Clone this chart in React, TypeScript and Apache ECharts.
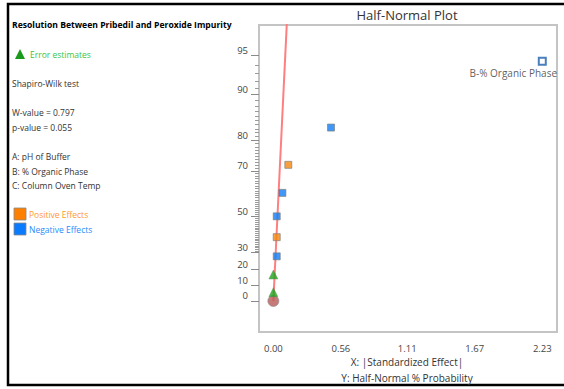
import React, { useEffect, useRef } from "react";
import * as echarts from "echarts";

// ---- data ----
const ERR_X = [0, 0];
const ERR_P = [5.6, 16.7];
const NEG_X = [0.028, 0.028, 0.075, 0.478];
const NEG_P = [27.8, 50, 61.1, 83.3];
const POS_X = [0.028, 0.124];
const POS_P = [38.9, 72.2];
const B_X = [2.23];
const B_P = [94.4];
const B_LABEL = "B-% Organic Phase";
const CENTER_X = [0];
const CENTER_P = [0];
const LINE_X = [0, 0.13];
const LINE_P = [0, 99];
const Y_TICKS = [0, 10, 20, 30, 50, 70, 80, 90, 95];
const Y_MINOR = [
  31, 32, 33, 34, 35, 36, 37, 38, 39, 40, 41, 42, 43, 44, 45, 46, 47, 48, 49,
  51, 52, 53, 54, 55, 56, 57, 58, 59, 60, 61, 62, 63, 64, 65, 66, 67, 68, 69,
  71, 72, 73, 74, 75, 76, 77, 78, 79, 81, 82, 83, 84, 85, 86, 87, 88, 89,
  91, 92, 93, 94,
];
const X_TICKS = [0, 0.56, 1.11, 1.67, 2.23];
const INFO_LINES = [
  { t: "Shapiro-Wilk test", y: 83 },
  { t: "W-value = 0.797", y: 112 },
  { t: "p-value = 0.055", y: 127 },
  { t: "A: pH of Buffer", y: 156 },
  { t: "B: % Organic Phase", y: 171 },
  { t: "C: Column Oven Temp", y: 185 },
];

// inverse standard normal CDF (Acklam)
function probit(p: number): number {
  const a = [-3.969683028665376e1, 2.209460984245205e2, -2.759285104469687e2, 1.38357751867269e2, -3.066479806614716e1, 2.506628277459239];
  const b = [-5.447609879822406e1, 1.615858368580409e2, -1.556989798598866e2, 6.680131188771972e1, -1.328068155288572e1];
  const c = [-7.784894002430293e-3, -3.223964580411365e-1, -2.400758277161838, -2.549732539343734, 4.374664141464968, 2.938163982698783];
  const d = [7.784695709041462e-3, 3.224671290700398e-1, 2.445134137142996, 3.754408661907416];
  const pl = 0.02425;
  if (p <= 0) return -Infinity;
  if (p >= 1) return Infinity;
  let q, r;
  if (p < pl) {
    q = Math.sqrt(-2 * Math.log(p));
    return (((((c[0] * q + c[1]) * q + c[2]) * q + c[3]) * q + c[4]) * q + c[5]) / ((((d[0] * q + d[1]) * q + d[2]) * q + d[3]) * q + 1);
  }
  if (p <= 1 - pl) {
    q = p - 0.5;
    r = q * q;
    return ((((((a[0] * r + a[1]) * r + a[2]) * r + a[3]) * r + a[4]) * r + a[5]) * q) / (((((b[0] * r + b[1]) * r + b[2]) * r + b[3]) * r + b[4]) * r + 1);
  }
  q = Math.sqrt(-2 * Math.log(1 - p));
  return -(((((c[0] * q + c[1]) * q + c[2]) * q + c[3]) * q + c[4]) * q + c[5]) / ((((d[0] * q + d[1]) * q + d[2]) * q + d[3]) * q + 1);
}
const hn = (pct: number) => (pct <= 0 ? 0 : probit(0.5 + pct / 200));
const pts = (xs: number[], ps: number[]) => xs.map((x, i) => [x, hn(ps[i])]);

const FONT = "'Open Sans', 'Noto Sans', sans-serif";

export default function App() {
  const ref = useRef<HTMLDivElement>(null);
  useEffect(() => {
    if (!ref.current) return;
    const chart = echarts.init(ref.current, null, { renderer: "svg" });
    const yTickZ = Y_TICKS.map(hn);
    const yMinorZ = Y_MINOR.map(hn);
    const yMin = -0.247;
    const yMax = 2.199;
    chart.setOption({
      animation: false,
      textStyle: { fontFamily: FONT },
      grid: {
        left: 259,
        top: 25,
        right: 7,
        bottom: 57,
        show: true,
        borderColor: "#c4c4c4",
        borderWidth: 2,
        backgroundColor: "transparent",
      },
      xAxis: {
        type: "value",
        min: -0.119,
        max: 2.352,
        axisLine: { show: false, onZero: false },
        splitLine: { show: false },
        axisTick: { show: false },
        axisLabel: {
          customValues: X_TICKS,
          formatter: (v: number) => v.toFixed(2),
          fontSize: 9.5,
          color: "#444",
          margin: 11,
          fontFamily: FONT,
        },
      },
      yAxis: [
        {
          type: "value",
          min: yMin,
          max: yMax,
          axisLine: { show: false, onZero: false },
          splitLine: { show: false },
          axisTick: {
            show: true,
            customValues: yTickZ,
            length: 8,
            lineStyle: { color: "#8a8a8a", width: 1 },
          },
          axisLabel: {
            customValues: yTickZ,
            formatter: (v: number) => {
              let best = 0;
              let bd = Infinity;
              yTickZ.forEach((z, i) => {
                const d = Math.abs(z - v);
                if (d < bd) {
                  bd = d;
                  best = i;
                }
              });
              return String(Y_TICKS[best]);
            },
            fontSize: 9.5,
            color: "#444",
            margin: 11,
            verticalAlign: "bottom",
            fontFamily: FONT,
          },
        },
        {
          type: "value",
          min: yMin,
          max: yMax,
          position: "left",
          offset: 0,
          axisLine: { show: false, onZero: false },
          splitLine: { show: false },
          axisLabel: { show: false },
          axisTick: {
            show: true,
            customValues: yMinorZ,
            length: 4,
            lineStyle: { color: "#9a9a9a", width: 1 },
          },
        },
      ],
      series: [
        {
          type: "line",
          data: pts(LINE_X, LINE_P),
          showSymbol: false,
          symbol: "none",
          lineStyle: { color: "#ff7f7f", width: 2 },
          clip: true,
          z: 1,
        },
        {
          type: "scatter",
          data: pts(CENTER_X, CENTER_P),
          symbol: "circle",
          symbolSize: 11,
          itemStyle: { color: "#b85a58", borderColor: "#8f8f8f", borderWidth: 0.8 },
          z: 2,
        },
        {
          type: "scatter",
          data: pts(ERR_X, ERR_P),
          symbol: "triangle",
          symbolSize: 9,
          itemStyle: { color: "#1ca51c", borderColor: "#5a8a5a", borderWidth: 0.5 },
          z: 3,
        },
        {
          type: "scatter",
          data: pts(NEG_X, NEG_P),
          symbol: "rect",
          symbolSize: 7,
          itemStyle: { color: "#0f7ef5", borderColor: "#7a7a7a", borderWidth: 0.8 },
          z: 3,
        },
        {
          type: "scatter",
          data: pts(POS_X, POS_P),
          symbol: "rect",
          symbolSize: 7,
          itemStyle: { color: "#f5860f", borderColor: "#7a7a7a", borderWidth: 0.8 },
          z: 3,
        },
        {
          type: "scatter",
          data: pts(B_X, B_P),
          symbol: "rect",
          symbolSize: 7,
          itemStyle: { color: "#ffffff", borderColor: "#1d5fae", borderWidth: 2 },
          label: {
            show: true,
            formatter: B_LABEL,
            position: "bottom",
            offset: [-29, -3],
            fontSize: 10,
            color: "#333",
            fontFamily: FONT,
          },
          z: 3,
        },
      ],
      graphic: [
        {
          type: "rect",
          shape: { x: 8, y: 4, width: 620, height: 381 },
          style: { fill: "none", stroke: "#000", lineWidth: 2.5 },
          silent: true,
        },
        {
          type: "text",
          x: 407,
          y: 15,
          style: {
            text: "Half-Normal Plot",
            font: `13px ${FONT}`,
            fill: "#333",
            textAlign: "center",
            textVerticalAlign: "middle",
          },
        },
        {
          type: "text",
          x: 12,
          y: 25,
          style: {
            text: "Resolution Between Pribedil and Peroxide Impurity",
            font: `bold 8.6px ${FONT}`,
            fill: "#000",
            textVerticalAlign: "middle",
          },
        },
        {
          type: "polygon",
          shape: { points: [[15, 59], [20, 49], [25, 59]] },
          style: { fill: "#1a9a1a" },
        },
        {
          type: "text",
          x: 30,
          y: 54,
          style: {
            text: "Error estimates",
            font: `8.5px ${FONT}`,
            fill: "#3cc43c",
            textVerticalAlign: "middle",
          },
        },
        ...INFO_LINES.map((l) => ({
          type: "text",
          x: 12,
          y: l.y,
          style: {
            text: l.t,
            font: `8.5px ${FONT}`,
            fill: "#333",
            textVerticalAlign: "middle",
          },
        })),
        {
          type: "rect",
          shape: { x: 14, y: 208, width: 12, height: 12 },
          style: { fill: "#ff8000", stroke: "#888", lineWidth: 0.8 },
        },
        {
          type: "rect",
          shape: { x: 14, y: 223, width: 12, height: 12 },
          style: { fill: "#0a7aff", stroke: "#888", lineWidth: 0.8 },
        },
        {
          type: "text",
          x: 29,
          y: 214,
          style: {
            text: "Positive Effects",
            font: `8.5px ${FONT}`,
            fill: "#ff9a30",
            textVerticalAlign: "middle",
          },
        },
        {
          type: "text",
          x: 29,
          y: 229,
          style: {
            text: "Negative Effects",
            font: `8.5px ${FONT}`,
            fill: "#2a8cff",
            textVerticalAlign: "middle",
          },
        },
        {
          type: "text",
          x: 407,
          y: 362,
          style: {
            text: "X: |Standardized Effect|",
            font: `10px ${FONT}`,
            fill: "#333",
            textAlign: "center",
            textVerticalAlign: "middle",
          },
        },
        {
          type: "text",
          x: 407,
          y: 378,
          style: {
            text: "Y: Half-Normal % Probability",
            font: `10px ${FONT}`,
            fill: "#333",
            textAlign: "center",
            textVerticalAlign: "middle",
          },
        },
      ],
    });
    return () => chart.dispose();
  }, []);
  return (
    <div
      ref={ref}
      style={{ position: "absolute", left: 0, top: 0, width: 564, height: 389, background: "#fff" }}
    />
  );
}
